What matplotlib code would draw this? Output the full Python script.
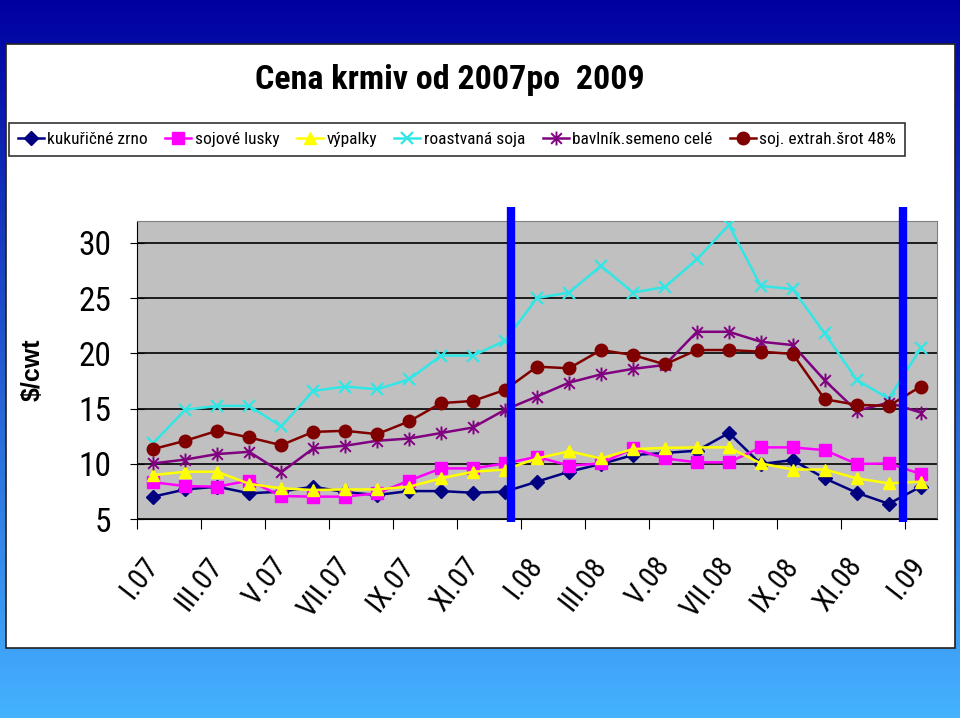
import numpy as np
import matplotlib
matplotlib.use('Agg')
import matplotlib.pyplot as plt
from matplotlib.path import Path
from matplotlib.patches import Rectangle

plt.rcParams['font.family'] = ['Roboto Condensed', 'Liberation Sans', 'DejaVu Sans']

# ---- data ($/cwt, monthly I.07 .. I.09)
months = ['I.07', 'II.07', 'III.07', 'IV.07', 'V.07', 'VI.07', 'VII.07', 'VIII.07',
          'IX.07', 'X.07', 'XI.07', 'XII.07', 'I.08', 'II.08', 'III.08', 'IV.08',
          'V.08', 'VI.08', 'VII.08', 'VIII.08', 'IX.08', 'X.08', 'XI.08', 'XII.08', 'I.09']

kukuricne = [7.05, 7.7, 7.95, 7.35, 7.5, 7.95, 7.45, 7.2, 7.55, 7.55, 7.4, 7.5, 8.4,
             9.3, 10.0, 10.8, 11.0, 11.2, 12.8, 10.0, 10.35, 8.7, 7.4, 6.4, 7.95]
sojove_lusky = [8.35, 8.0, 7.95, 8.5, 7.1, 7.05, 7.05, 7.35, 8.5, 9.6, 9.6, 10.05, 10.65,
                9.85, 10.05, 11.4, 10.5, 10.15, 10.15, 11.5, 11.5, 11.25, 10.0, 10.05, 9.1]
vypalky = [9.0, 9.3, 9.3, 8.2, 7.8, 7.65, 7.7, 7.7, 7.95, 8.7, 9.3, 9.5, 10.5,
           11.15, 10.5, 11.35, 11.45, 11.5, 11.5, 10.05, 9.5, 9.5, 8.7, 8.25, 8.4]
roastovana = [11.9, 14.9, 15.25, 15.25, 13.4, 16.6, 17.0, 16.75, 17.65, 19.8, 19.8, 21.15, 25.0,
              25.5, 27.9, 25.5, 26.0, 28.5, 31.6, 26.1, 25.8, 21.8, 17.6, 15.9, 20.45]
bavlnik = [10.05, 10.4, 10.9, 11.1, 9.25, 11.4, 11.65, 12.1, 12.3, 12.8, 13.3, 14.9, 16.1,
           17.35, 18.1, 18.6, 18.95, 21.95, 21.95, 21.05, 20.75, 17.55, 14.8, 15.55, 14.65]
srot = [11.35, 12.1, 13.0, 12.4, 11.7, 12.9, 13.0, 12.7, 13.85, 15.5, 15.7, 16.7, 18.8,
        18.65, 20.3, 19.85, 19.0, 20.3, 20.3, 20.15, 19.95, 15.85, 15.35, 15.25, 17.0]

names = ['kukuřičné zrno', 'sojové lusky', 'výpalky', 'roastvaná soja',
         'bavlník.semeno celé', 'soj. extrah.šrot 48%']
markers_at = [11.2, 23.45]   # blue vertical bars

star = Path([(-1, -1), (1, 1), (-1, 1), (1, -1), (0, -1.3), (0, 1.3)],
            [Path.MOVETO, Path.LINETO, Path.MOVETO, Path.LINETO, Path.MOVETO, Path.LINETO])

styles = [
    dict(color='#000080', marker='D', ms=7),
    dict(color='#ff00ff', marker='s', ms=8),
    dict(color='#ffff00', marker='^', ms=9),
    dict(color='#33e6e6', marker='x', ms=9, mew=1.6),
    dict(color='#800080', marker=star, ms=10, mew=1.4),
    dict(color='#800000', marker='o', ms=9),
]
series = [kukuricne, sojove_lusky, vypalky, roastovana, bavlnik, srot]

fig = plt.figure(figsize=(9.6, 7.18), dpi=100)

# gradient background
bg = fig.add_axes([0, 0, 1, 1], zorder=-10)
grad = np.linspace(0, 1, 256).reshape(-1, 1)
c0 = np.array([0.0, 0.0, 0.63])
c1 = np.array([0.27, 0.70, 1.0])
img = c0 + (c1 - c0) * grad[:, :, None]
bg.imshow(img, aspect='auto', extent=[0, 1, 0, 1], origin='upper')
bg.set_xlim(0, 1)
bg.set_ylim(0, 1)
bg.axis('off')

# white panel
W, H = 960.0, 718.0
fig.patches.append(Rectangle((6 / W, 1 - 648 / H), (955 - 6) / W, (648 - 44) / H,
                             transform=fig.transFigure, facecolor='white',
                             edgecolor='#202020', lw=1.2, zorder=-5))

fig.text(450 / W, 1 - 80 / H, 'Cena krmiv od 2007po  2009', ha='center', va='center',
         fontsize=24.5, fontweight='bold')
fig.text(33 / W, 1 - 370 / H, '$/cwt', rotation=90, ha='center', va='center',
         fontsize=18, fontweight='bold', family=['Liberation Sans', 'DejaVu Sans'])

ax = fig.add_axes([137.3 / W, 1 - 519.3 / H, (936.7 - 137.3) / W, (519.3 - 220.6) / H])
ax.set_facecolor('#c0c0c0')
x = np.arange(len(months))
for vals, name, st in zip(series, names, styles):
    ax.plot(x, vals, lw=1.8, label=name, zorder=3, **st)

for xb in markers_at:
    ax.plot([xb, xb], [33.2, 4.75], color='#0000ff', lw=6, solid_capstyle='butt',
            clip_on=False, zorder=5)

ax.set_xlim(-0.5, len(months) - 0.5)
ax.set_ylim(5, 32)
ax.set_yticks([5, 10, 15, 20, 25, 30])
ax.yaxis.grid(True, color='black', lw=1.2)
ax.set_axisbelow(True)
ax.tick_params(axis='y', direction='inout', length=10, labelsize=24, pad=14)

ax.set_xticks(np.arange(-0.5, len(months) - 1, 2))
ax.set_xticklabels([])
ax.tick_params(axis='x', which='major', direction='out', length=7)
ax.set_xticks(x[::2], minor=True)
ax.set_xticklabels(months[::2], minor=True, rotation=52, ha='right', va='center',
                   rotation_mode='anchor', fontsize=21)
ax.tick_params(axis='x', which='minor', length=0, pad=30)

for s in ['top', 'right']:
    ax.spines[s].set_color('#808080')
for s in ['left', 'bottom']:
    ax.spines[s].set_color('black')

leg = fig.legend(loc='center', bbox_to_anchor=(457 / W, 1 - 139.5 / H), ncol=6,
                 fontsize=12.5, frameon=True, fancybox=False, edgecolor='black',
                 handlelength=1.5, handletextpad=0.2, columnspacing=1.0,
                 borderpad=0.5, borderaxespad=0)
leg.get_frame().set_linewidth(1.2)

fig.savefig('out.png', dpi=100)
